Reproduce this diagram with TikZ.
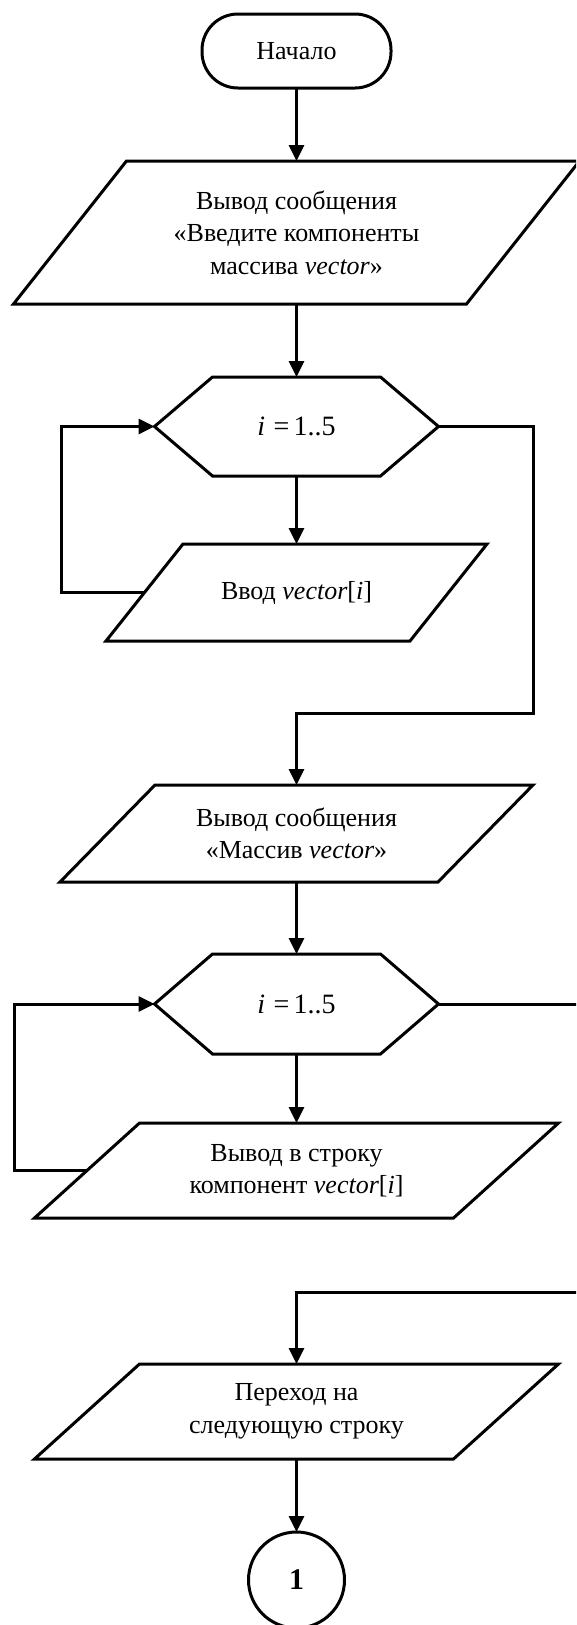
\documentclass[tikz,border=0pt]{standalone}
\usepackage{fontspec}
\setmainfont{Liberation Serif}
\usetikzlibrary{arrows.meta,calc}
\newcommand\paraoutline[2]{%
  \draw ($(#1.south west)$) -- ($(#1.south east)+(-#2,0)$) -- (#1.north east) -- ($(#1.north west)+(#2,0)$) -- cycle;}
\newcommand\hexoutline[2]{%
  \draw (#1.west) -- ($(#1.north west)+(#2,0)$) -- ($(#1.north east)+(-#2,0)$) -- (#1.east) -- ($(#1.south east)+(-#2,0)$) -- ($(#1.south west)+(#2,0)$) -- cycle;}
\begin{document}
\begin{tikzpicture}[x=1pt,y=-1pt, line width=3pt,
  arr/.style={-{Triangle[length=16pt,width=15pt]}},
  lbl/.style={inner sep=0pt, outer sep=0pt, align=center, font=\fontsize{26}{32.5}\selectfont},
  hexlbl/.style={lbl, font=\fontsize{28}{34}\selectfont}]
\useasboundingbox (0,0) rectangle (576,1625);
\clip (0,0) rectangle (576,1625);

% nodes
\node[lbl, draw, rounded corners=36pt, minimum width=189pt, minimum height=74pt] (term) at (296.5,51) {Начало};
\node[lbl, minimum width=566pt, minimum height=143pt] (p1) at (296.5,232.5) {Вывод сообщения\\«Введите компоненты\\массива \textit{vector}»};
\paraoutline{p1}{113}
\node[hexlbl, minimum width=284pt, minimum height=99pt] (h1) at (296.5,426.5) {\textit{i}\hspace{0.3em}=\hspace{0.15em}1..5};
\hexoutline{h1}{58}
\node[lbl, minimum width=381pt, minimum height=97pt] (p2) at (296.5,592.5) {Ввод \textit{vector}[\textit{i}]};
\paraoutline{p2}{77}
\node[lbl, minimum width=473pt, minimum height=97pt] (p3) at (296.5,833.5) {Вывод сообщения\\«Массив \textit{vector}»};
\paraoutline{p3}{95}
\node[hexlbl, minimum width=284pt, minimum height=100pt] (h2) at (296.5,1004) {\textit{i}\hspace{0.3em}=\hspace{0.15em}1..5};
\hexoutline{h2}{58}
\node[lbl, minimum width=524pt, minimum height=95pt] (p4) at (296.5,1170.5) {Вывод в строку\\компонент \textit{vector}[\textit{i}]};
\paraoutline{p4}{105}
\node[lbl, minimum width=524pt, minimum height=95pt] (p5) at (296.5,1411.5) {Переход на\\следующую строку};
\paraoutline{p5}{105}
\node[lbl, draw, circle, minimum size=96pt, font=\fontsize{30}{36}\selectfont\bfseries] (c1) at (296.5,1580) {1};

% helper coordinates
\coordinate (p2l) at ($(p2.west)+(38.5,0)$);
\coordinate (p4l) at ($(p4.west)+(52.5,0)$);
\coordinate (l1) at (61,0);
\coordinate (l2) at (14,0);
\coordinate (r1) at (533,713);
\coordinate (r2) at (590,1292);

% connectors
\draw[arr] (term.south) -- (p1.north);
\draw[arr] (p1.south) -- (h1.north);
\draw[arr] (h1.south) -- (p2.north);
\draw[arr] (p2l) -- (p2l -| l1) |- (h1.west);
\draw[arr] (h1.east) -| (r1) -| (p3.north);
\draw[arr] (p3.south) -- (h2.north);
\draw[arr] (h2.south) -- (p4.north);
\draw[arr] (p4l) -- (p4l -| l2) |- (h2.west);
\draw[arr] (h2.east) -| (r2) -| (p5.north);
\draw[arr] (p5.south) -- (c1.north);
\end{tikzpicture}
\end{document}
